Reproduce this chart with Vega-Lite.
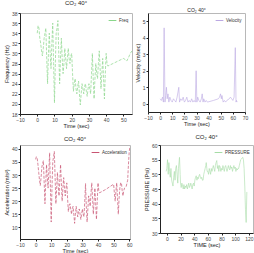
{
  "$schema": "https://vega.github.io/schema/vega-lite/v6.json",
  "padding": {"left": 4, "top": -1, "right": 0, "bottom": 0},
  "config": {
    "font": "Liberation Sans",
    "view": {"stroke": "#b8b8b8", "strokeWidth": 1},
    "axis": {"grid": false, "labelFontSize": 5, "titleFontSize": 5.5, "titleFontWeight": "normal", "tickSize": 2, "labelPadding": 1, "titlePadding": 1.5, "domainColor": "#222", "tickColor": "#222", "labelColor": "#444", "titleColor": "#222", "labelFlush": false, "labelOverlap": false},
    "title": {"fontSize": 6, "fontWeight": "normal", "offset": 3, "color": "#222"},
    "legend": {"orient": "top-right", "labelFontSize": 4.5, "symbolType": "stroke", "symbolSize": 60, "symbolStrokeWidth": 1, "labelOffset": 2, "offset": 2, "padding": 1, "rowPadding": 0, "labelColor": "#333"}
  },
  "spacing": 3,
  "bounds": "full",
  "resolve": {"scale": {"color": "independent"}},
  "vconcat": [
    {
      "spacing": 2,
      "bounds": "full",
      "resolve": {"scale": {"color": "independent"}},
      "hconcat": [
        {
          "width": 112, "height": 101,
          "title": {"text": "CO₂ 40°", "offset": 5},
          "data": {"values": [
            {"t":0,"v":34},{"t":0.5,"v":35.5},{"t":1,"v":35},{"t":1.5,"v":33},{"t":2,"v":32},{"t":2.5,"v":30.5},{"t":3,"v":29.5},{"t":3.5,"v":31},{"t":4,"v":33},{"t":4.5,"v":34},{"t":5,"v":35},{"t":5.5,"v":29},{"t":6,"v":24},{"t":6.5,"v":30},{"t":7,"v":34},{"t":7.5,"v":30},{"t":8,"v":27},{"t":8.5,"v":32},{"t":9,"v":36},{"t":9.5,"v":28},{"t":10,"v":20.2},{"t":10.5,"v":28},{"t":11,"v":34},{"t":11.5,"v":35},{"t":12,"v":36.5},{"t":12.5,"v":30},{"t":13,"v":24},{"t":13.5,"v":29},{"t":14,"v":33},{"t":14.5,"v":29},{"t":15,"v":26},{"t":15.5,"v":28},{"t":16,"v":31},{"t":16.5,"v":29},{"t":17,"v":27},{"t":17.5,"v":29},{"t":18,"v":31},{"t":18.5,"v":29},{"t":19,"v":28},{"t":19.5,"v":29.5},{"t":20,"v":30},{"t":20.5,"v":26},{"t":21,"v":22.5},{"t":21.5,"v":24},{"t":22,"v":25},{"t":22.5,"v":23},{"t":23,"v":22},{"t":23.5,"v":23.5},{"t":24,"v":24.5},{"t":24.5,"v":22},{"t":25,"v":19.8},{"t":25.5,"v":22},{"t":26,"v":24},{"t":26.5,"v":23},{"t":27,"v":22},{"t":27.5,"v":23.5},{"t":28,"v":24},{"t":28.5,"v":22.5},{"t":29,"v":21.5},{"t":29.5,"v":23},{"t":30,"v":24},{"t":30.5,"v":23},{"t":31,"v":22},{"t":31.5,"v":26},{"t":32,"v":30},{"t":32.5,"v":25},{"t":33,"v":21},{"t":33.5,"v":25},{"t":34,"v":28},{"t":34.5,"v":26},{"t":35,"v":25},{"t":35.5,"v":28},{"t":36,"v":30.5},{"t":36.5,"v":27},{"t":37,"v":23},{"t":37.5,"v":26},{"t":38,"v":29},{"t":38.5,"v":25},{"t":39,"v":21},{"t":39.5,"v":26},{"t":40,"v":30},{"t":40.5,"v":28},{"t":41,"v":27.5},{"t":44,"v":28},{"t":47,"v":28.5},{"t":50,"v":29},{"t":51,"v":28.8},{"t":52,"v":28.5},{"t":53,"v":29.2},{"t":54,"v":30},{"t":55,"v":30.5}
          ]},
          "mark": {"type": "line", "strokeWidth": 0.7, "strokeDash": [3, 1.5], "clip": true},
          "encoding": {
            "x": {"field": "t", "type": "quantitative", "scale": {"domain": [-10, 55], "nice": false, "zero": false}, "axis": {"title": "Time (sec)", "values": [-10, 0, 10, 20, 30, 40, 50]}},
            "y": {"field": "v", "type": "quantitative", "scale": {"domain": [18, 38], "nice": false, "zero": false}, "axis": {"title": "Frequency (Hz)", "values": [18, 20, 22, 24, 26, 28, 30, 32, 34, 36, 38]}},
            "color": {"datum": "Freq", "type": "nominal", "scale": {"range": ["#8ad68a"]}, "title": null}
          }
        },
        {
          "width": 97, "height": 99,
          "title": {"text": "CO₂ 40°", "offset": 0, "fontSize": 5},
          "data": {"values": [
            {"t":0,"v":0.3},{"t":1,"v":0.2},{"t":2,"v":0.4},{"t":2.7,"v":0.1},{"t":3.3,"v":4.6},{"t":4,"v":0.1},{"t":4.6,"v":0.5},{"t":5.2,"v":1.0},{"t":5.8,"v":0.3},{"t":6.5,"v":0.6},{"t":7.2,"v":0.1},{"t":8,"v":0.4},{"t":9,"v":0.2},{"t":10,"v":0.1},{"t":11,"v":0.3},{"t":12,"v":0.2},{"t":13,"v":0.1},{"t":14,"v":0.4},{"t":15.4,"v":1.0},{"t":16,"v":0.1},{"t":17,"v":0.3},{"t":18,"v":0.2},{"t":19,"v":0.4},{"t":20,"v":0.1},{"t":21,"v":0.2},{"t":22,"v":0.4},{"t":23,"v":0.1},{"t":24,"v":0.2},{"t":25,"v":0.1},{"t":26,"v":0.3},{"t":27,"v":0.1},{"t":28,"v":0.2},{"t":29,"v":0.1},{"t":29.7,"v":2.0},{"t":30.3,"v":0.1},{"t":31,"v":0.4},{"t":32,"v":0.2},{"t":33,"v":0.1},{"t":34,"v":0.3},{"t":34.7,"v":0.6},{"t":35.4,"v":0.1},{"t":36,"v":0.3},{"t":37,"v":0.1},{"t":38,"v":0.2},{"t":39,"v":0.1},{"t":44,"v":0.2},{"t":48,"v":0.3},{"t":49,"v":0.4},{"t":49.8,"v":0.6},{"t":50.5,"v":0.3},{"t":51,"v":0.5},{"t":52,"v":0.1},{"t":53,"v":0.2},{"t":54,"v":0.1},{"t":55,"v":0.2},{"t":57,"v":0.3},{"t":58,"v":0.4},{"t":59,"v":0.3},{"t":60,"v":0.2},{"t":61,"v":0.4},{"t":62,"v":3.4},{"t":62.6,"v":0.1},{"t":63,"v":0.2},{"t":63.5,"v":0.1}
          ]},
          "mark": {"type": "line", "strokeWidth": 0.6, "clip": true},
          "encoding": {
            "x": {"field": "t", "type": "quantitative", "scale": {"domain": [-10, 70], "nice": false, "zero": false}, "axis": {"title": "Time (sec)", "values": [-10, 0, 10, 20, 30, 40, 50, 60, 70]}},
            "y": {"field": "v", "type": "quantitative", "scale": {"domain": [-0.5, 5.5], "nice": false, "zero": false}, "axis": {"title": "Velocity (m/sec)", "values": [0, 1, 2, 3, 4, 5]}},
            "color": {"datum": "Velocity", "type": "nominal", "scale": {"range": ["#bba8e2"]}, "title": null}
          }
        }
      ]
    },
    {
      "spacing": 11,
      "bounds": "full",
      "resolve": {"scale": {"color": "independent"}},
      "hconcat": [
        {
          "width": 110, "height": 94,
          "title": {"text": "CO₂ 40°", "offset": 3},
          "data": {"values": [
            {"t":0,"v":36},{"t":0.5,"v":37},{"t":1,"v":36.5},{"t":1.5,"v":34},{"t":2,"v":31},{"t":2.5,"v":28},{"t":3,"v":26},{"t":3.5,"v":29},{"t":4,"v":33},{"t":4.5,"v":34.5},{"t":5,"v":35.5},{"t":5.5,"v":27},{"t":6,"v":19},{"t":6.5,"v":27},{"t":7,"v":34},{"t":7.5,"v":29},{"t":8,"v":25},{"t":8.5,"v":32},{"t":9,"v":38.5},{"t":9.5,"v":25},{"t":10,"v":12},{"t":10.5,"v":25},{"t":11,"v":35},{"t":11.5,"v":37},{"t":12,"v":39},{"t":12.5,"v":29},{"t":13,"v":19},{"t":13.5,"v":25},{"t":14,"v":31},{"t":14.5,"v":26},{"t":15,"v":22},{"t":15.5,"v":28},{"t":16,"v":34},{"t":16.5,"v":27},{"t":17,"v":20},{"t":17.5,"v":25},{"t":18,"v":29},{"t":18.5,"v":25},{"t":19,"v":22},{"t":19.5,"v":25},{"t":20,"v":27},{"t":20.5,"v":21},{"t":21,"v":16},{"t":21.5,"v":18},{"t":22,"v":19},{"t":22.5,"v":17},{"t":23,"v":15},{"t":23.5,"v":17},{"t":24,"v":18},{"t":24.5,"v":15},{"t":25,"v":11.5},{"t":25.5,"v":15},{"t":26,"v":18},{"t":26.5,"v":16},{"t":27,"v":14},{"t":27.5,"v":16},{"t":28,"v":17},{"t":28.5,"v":15},{"t":29,"v":13},{"t":29.5,"v":15},{"t":30,"v":17},{"t":30.5,"v":15},{"t":31,"v":14},{"t":31.5,"v":20},{"t":32,"v":26.7},{"t":32.5,"v":18},{"t":33,"v":12},{"t":33.5,"v":17},{"t":34,"v":22},{"t":34.5,"v":20},{"t":35,"v":18},{"t":35.5,"v":23},{"t":36,"v":27},{"t":36.5,"v":21},{"t":37,"v":15},{"t":37.5,"v":20},{"t":38,"v":25},{"t":38.5,"v":19},{"t":39,"v":13},{"t":39.5,"v":20},{"t":40,"v":27},{"t":40.5,"v":24},{"t":41,"v":23.2},{"t":45,"v":24.5},{"t":50,"v":26.5},{"t":50.5,"v":23},{"t":51,"v":20},{"t":51.5,"v":24},{"t":52,"v":27},{"t":52.5,"v":21},{"t":53,"v":15},{"t":53.5,"v":21},{"t":54,"v":25},{"t":54.5,"v":27},{"t":55,"v":27},{"t":55.5,"v":24},{"t":56,"v":22},{"t":56.5,"v":24},{"t":57,"v":25},{"t":58,"v":25.5},{"t":59,"v":28},{"t":59.5,"v":34},{"t":60,"v":39},{"t":60.5,"v":41}
          ]},
          "mark": {"type": "line", "strokeWidth": 0.7, "strokeDash": [3, 1.5], "clip": true},
          "encoding": {
            "x": {"field": "t", "type": "quantitative", "scale": {"domain": [-10, 60.5], "nice": false, "zero": false}, "axis": {"title": "Time (sec)", "values": [-10, 0, 10, 20, 30, 40, 50, 60]}},
            "y": {"field": "v", "type": "quantitative", "scale": {"domain": [5.5, 41.5], "nice": false, "zero": false}, "axis": {"title": "Acceleration (m/s²)", "values": [10, 15, 20, 25, 30, 35, 40]}},
            "color": {"datum": "Acceleration", "type": "nominal", "scale": {"range": ["#c85472"]}, "title": null}
          }
        },
        {
          "width": 93, "height": 88,
          "title": {"text": "CO₂ 40°", "offset": 3},
          "data": {"values": [
            {"t":-1,"v":51},{"t":0,"v":52},{"t":1,"v":55},{"t":1.5,"v":53},{"t":2,"v":50},{"t":3,"v":54},{"t":4,"v":51},{"t":5,"v":49},{"t":6,"v":52},{"t":7,"v":48},{"t":8,"v":47},{"t":9,"v":46},{"t":10,"v":49},{"t":11,"v":51},{"t":12,"v":48},{"t":13,"v":52},{"t":14,"v":53},{"t":15,"v":50},{"t":16,"v":47},{"t":17,"v":52},{"t":18.5,"v":55.8},{"t":19.5,"v":50},{"t":20,"v":47},{"t":21,"v":45.5},{"t":22,"v":47},{"t":23,"v":46},{"t":24,"v":45},{"t":25,"v":46.5},{"t":26,"v":45},{"t":27,"v":46},{"t":28,"v":45.5},{"t":29,"v":46.5},{"t":30,"v":45},{"t":31,"v":46},{"t":32,"v":47},{"t":33,"v":45.5},{"t":34,"v":46},{"t":35,"v":47},{"t":36,"v":46},{"t":37,"v":45},{"t":38,"v":46.5},{"t":39,"v":47},{"t":40,"v":46},{"t":41,"v":48},{"t":42,"v":49},{"t":43,"v":49.5},{"t":44,"v":48},{"t":45,"v":49},{"t":46,"v":48.5},{"t":47,"v":49.5},{"t":48,"v":50},{"t":49,"v":49},{"t":50,"v":48.5},{"t":51,"v":49},{"t":52,"v":48},{"t":53,"v":48},{"t":54,"v":50},{"t":55,"v":51},{"t":56,"v":52},{"t":57,"v":53},{"t":57.6,"v":54},{"t":58.5,"v":52},{"t":59,"v":51},{"t":60,"v":51},{"t":61,"v":50},{"t":62,"v":52},{"t":63,"v":51},{"t":64,"v":50},{"t":65,"v":52},{"t":66,"v":51},{"t":67,"v":52},{"t":68,"v":53},{"t":69,"v":52},{"t":70,"v":51},{"t":71,"v":53},{"t":72,"v":54},{"t":73,"v":54.7},{"t":74,"v":52},{"t":75,"v":53},{"t":76,"v":51},{"t":77,"v":53},{"t":78,"v":52.5},{"t":79,"v":51},{"t":80,"v":52},{"t":81,"v":51.5},{"t":82,"v":53},{"t":83,"v":52},{"t":84,"v":51},{"t":85,"v":52.5},{"t":86,"v":53},{"t":87,"v":52},{"t":88,"v":51},{"t":89,"v":52},{"t":90,"v":53},{"t":91,"v":52},{"t":92,"v":51.5},{"t":93,"v":53},{"t":94,"v":52},{"t":95,"v":52.5},{"t":96,"v":51},{"t":97,"v":52},{"t":98,"v":53},{"t":99,"v":52},{"t":100,"v":52.5},{"t":101,"v":51},{"t":102,"v":52},{"t":103,"v":51.5},{"t":104,"v":52},{"t":105,"v":52},{"t":106,"v":53},{"t":107,"v":54},{"t":108,"v":55},{"t":109,"v":55.2},{"t":110,"v":55.5},{"t":111,"v":55.8},{"t":112,"v":55},{"t":113,"v":52},{"t":114,"v":46},{"t":115,"v":38},{"t":116,"v":33.6},{"t":117,"v":44}
          ]},
          "mark": {"type": "line", "strokeWidth": 0.6, "clip": true},
          "encoding": {
            "x": {"field": "t", "type": "quantitative", "scale": {"domain": [-10, 126], "nice": false, "zero": false}, "axis": {"title": "TIME (sec)", "values": [0, 20, 40, 60, 80, 100, 120]}},
            "y": {"field": "v", "type": "quantitative", "scale": {"domain": [30, 60], "nice": false, "zero": false}, "axis": {"title": "PRESSURE (Psi)", "values": [30, 35, 40, 45, 50, 55, 60]}},
            "color": {"datum": "PRESSURE", "type": "nominal", "scale": {"range": ["#a6dca6"]}, "title": null}
          }
        }
      ]
    }
  ]
}
